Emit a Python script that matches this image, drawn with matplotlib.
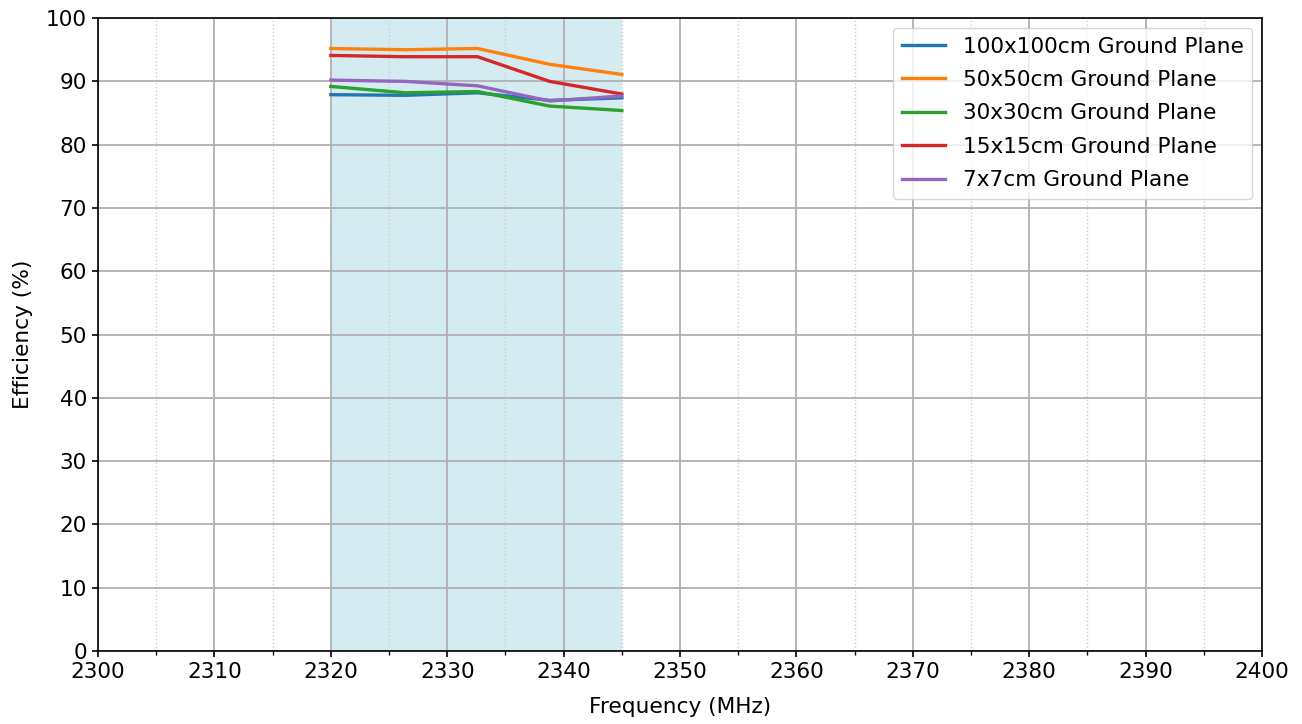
import matplotlib.pyplot as plt
from matplotlib.ticker import MultipleLocator

# measured efficiency across the band
freqs = [2320, 2326.4, 2332.6, 2338.8, 2345]
eff_100 = [87.9, 87.8, 88.2, 87.0, 87.4]
eff_50 = [95.2, 95.0, 95.2, 92.7, 91.1]
eff_30 = [89.2, 88.2, 88.4, 86.1, 85.4]
eff_15 = [94.1, 93.9, 93.9, 90.0, 88.0]
eff_7 = [90.2, 90.0, 89.3, 86.9, 87.7]
labels = ["100x100cm Ground Plane", "50x50cm Ground Plane", "30x30cm Ground Plane",
          "15x15cm Ground Plane", "7x7cm Ground Plane"]

fs = 15.6
fig, ax = plt.subplots(figsize=(13.02, 7.24), dpi=100)
fig.subplots_adjust(left=0.0753, right=0.9693, top=0.975, bottom=0.1008)

ax.axvspan(2320, 2345, color="lightblue", alpha=0.5, lw=0)
for serie, lab in zip([eff_100, eff_50, eff_30, eff_15, eff_7], labels):
    ax.plot(freqs, serie, lw=2.4, label=lab)

ax.set_xlim(2300, 2400)
ax.set_ylim(0, 100)
ax.xaxis.set_major_locator(MultipleLocator(10))
ax.xaxis.set_minor_locator(MultipleLocator(5))
ax.yaxis.set_major_locator(MultipleLocator(10))
ax.grid(which="major", color="#b0b0b0", lw=1.3)
ax.grid(which="minor", axis="x", color="#cccccc", ls=":", lw=1.0)
for s in ax.spines.values():
    s.set_linewidth(1.2)
ax.tick_params(which="major", labelsize=fs, length=4.5, width=1.2)
ax.tick_params(which="minor", length=3, width=1.0)
ax.set_xlabel("Frequency (MHz)", fontsize=fs, labelpad=11)
ax.set_ylabel("Efficiency (%)", fontsize=fs, labelpad=9)
ax.legend(loc="upper right", fontsize=fs, labelspacing=0.62, borderaxespad=0.45)

plt.savefig("out.png")
